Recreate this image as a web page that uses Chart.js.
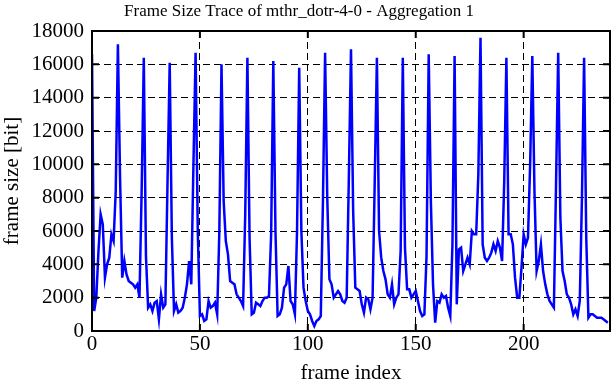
<!DOCTYPE html>
<html>
<head>
<meta charset="utf-8">
<script src="https://cdn.jsdelivr.net/npm/chart.js@4.4.0/dist/chart.umd.min.js"></script>
<style>
body{margin:0;background:#fff;}
</style>
</head>
<body>
<canvas id="trace" width="612" height="382"></canvas>
<script>
// frame sizes in bit, one row per 12-frame GOP
const frameSizes = [
    16600, 1200, 2000, 4800, 7000, 6400, 3200, 4000, 4400, 5800, 5400, 8400,
    17200, 9200, 3200, 4200, 3400, 3000, 2900, 2800, 2600, 2800, 2000, 8400,
    16400, 4500, 1400, 1600, 1200, 1700, 1800, 700, 2200, 1400, 1600, 9000,
    16100, 5600, 1200, 1600, 1100, 1200, 1400, 2000, 2800, 4200, 2800, 10000,
    16700, 6000, 900, 1000, 600, 700, 1800, 1400, 1500, 1700, 1000, 6000,
    16000, 7800, 5400, 4600, 3000, 2900, 2800, 2200, 2000, 1800, 1500, 7000,
    16400, 5600, 1000, 1100, 1700, 1600, 1500, 1800, 2000, 2000, 2100, 5800,
    16200, 6000, 900, 1000, 1400, 2600, 2800, 3900, 1800, 1600, 1000, 6000,
    15800, 6000, 2600, 1800, 1200, 1000, 600, 300, 600, 700, 900, 7800,
    16700, 8000, 3100, 2800, 2000, 2200, 2400, 2200, 1800, 1700, 2000, 9200,
    16900, 7200, 2600, 2500, 2400, 1600, 1100, 2000, 1900, 1300, 2000, 9000,
    16400, 6000, 4400, 3600, 3100, 2200, 2000, 2800, 1600, 2000, 2200, 4800,
    16400, 5000, 2500, 2500, 2000, 2200, 2400, 1800, 1200, 900, 1000, 4500,
    16600, 7800, 2800, 500, 1800, 1700, 2200, 2000, 2100, 1400, 900, 5200,
    16500, 1600, 4900, 5000, 3600, 4000, 4400, 4000, 6000, 5800, 5800, 9400,
    17600, 5200, 4400, 4200, 4400, 4700, 5200, 4800, 5400, 5000, 4200, 9000,
    16400, 5800, 5800, 5200, 3200, 2000, 2000, 3800, 5800, 5200, 5600, 10000,
    16500, 8400, 3600, 4200, 5200, 3600, 2800, 2200, 1800, 1600, 1400, 8800,
    16700, 6800, 3600, 3000, 2200, 2000, 1600, 1000, 1300, 900, 1800, 8000,
    16400, 5600, 800, 1000, 1000, 900, 800, 800, 800, 700, 600, 500
];
const xRange = [0, 240];
const yRange = [0, 18000];
const xStep = 50;
const yStep = 2000;
const titleText = "Frame Size Trace of mthr_dotr-4-0 - Aggregation 1";
const xLabel = "frame index";
const yLabel = "frame size [bit]";

const serif = "'Liberation Serif', 'Times New Roman', serif";

// gnuplot style: title, box and inward ticks on all four sides
const frameBox = {
    id: 'frameBox',
    afterDraw(chart) {
        let ctx = chart.ctx;
        let a = chart.chartArea;
        let xs = chart.scales.x, ys = chart.scales.y;
        ctx.save();
        ctx.strokeStyle = '#000';
        ctx.lineWidth = 2;
        ctx.setLineDash([]);
        ctx.beginPath();
        xs.ticks.forEach(t => {
            let px = xs.getPixelForValue(t.value);
            ctx.moveTo(px, a.bottom); ctx.lineTo(px, a.bottom - 7);
            ctx.moveTo(px, a.top); ctx.lineTo(px, a.top + 7);
        });
        ys.ticks.forEach(t => {
            let py = ys.getPixelForValue(t.value);
            ctx.moveTo(a.left, py); ctx.lineTo(a.left + 7, py);
            ctx.moveTo(a.right, py); ctx.lineTo(a.right - 7, py);
        });
        ctx.stroke();
        ctx.strokeRect(a.left, a.top, a.right - a.left, a.bottom - a.top);
        // title, centred a bit left of the canvas middle like gnuplot does
        ctx.fillStyle = '#000';
        ctx.font = "17px " + serif;
        ctx.textAlign = 'center';
        ctx.textBaseline = 'middle';
        ctx.fillText(titleText, 299, 12);
        ctx.restore();
    }
};

new Chart("trace", {
    type: "line",
    data: {
        datasets: [{
            data: frameSizes.map((v, i) => ({x: i, y: v})),
            borderColor: "#0000ff",
            borderWidth: 2.5,
            pointRadius: 0,
            fill: false,
            lineTension: 0
        }]
    },
    options: {
        responsive: false,
        animation: false,
        layout: {padding: {left: 0, right: 2, top: 31, bottom: 0}},
        plugins: {
            legend: {display: false},
            tooltip: {enabled: false},
            title: {display: false}
        },
        scales: {
            x: {
                type: 'linear',
                min: xRange[0],
                max: xRange[1],
                ticks: {stepSize: xStep, includeBounds: false, color: '#000', maxRotation: 0,
                        font: {family: serif, size: 21}, padding: 1},
                grid: {color: '#000', lineWidth: 1, drawTicks: false},
                border: {color: '#000', width: 2, dash: [7, 4]},
                title: {display: true, text: xLabel, color: '#000',
                        font: {family: serif, size: 21, lineHeight: 0.8}, padding: {top: 0, bottom: 0}},
                afterFit(s) { s.height = 51; }
            },
            y: {
                min: yRange[0],
                max: yRange[1],
                ticks: {stepSize: yStep, color: '#000',
                        font: {family: serif, size: 21}, padding: 8,
                        callback: v => String(v)},
                grid: {color: '#000', lineWidth: 1, drawTicks: false},
                border: {color: '#000', width: 2, dash: [7, 4]},
                title: {display: true, text: yLabel, color: '#000',
                        font: {family: serif, size: 21}, padding: {top: 0, bottom: 0}},
                afterFit(s) { s.width = 92; }
            }
        }
    },
    plugins: [frameBox]
});
</script>
</body>
</html>
